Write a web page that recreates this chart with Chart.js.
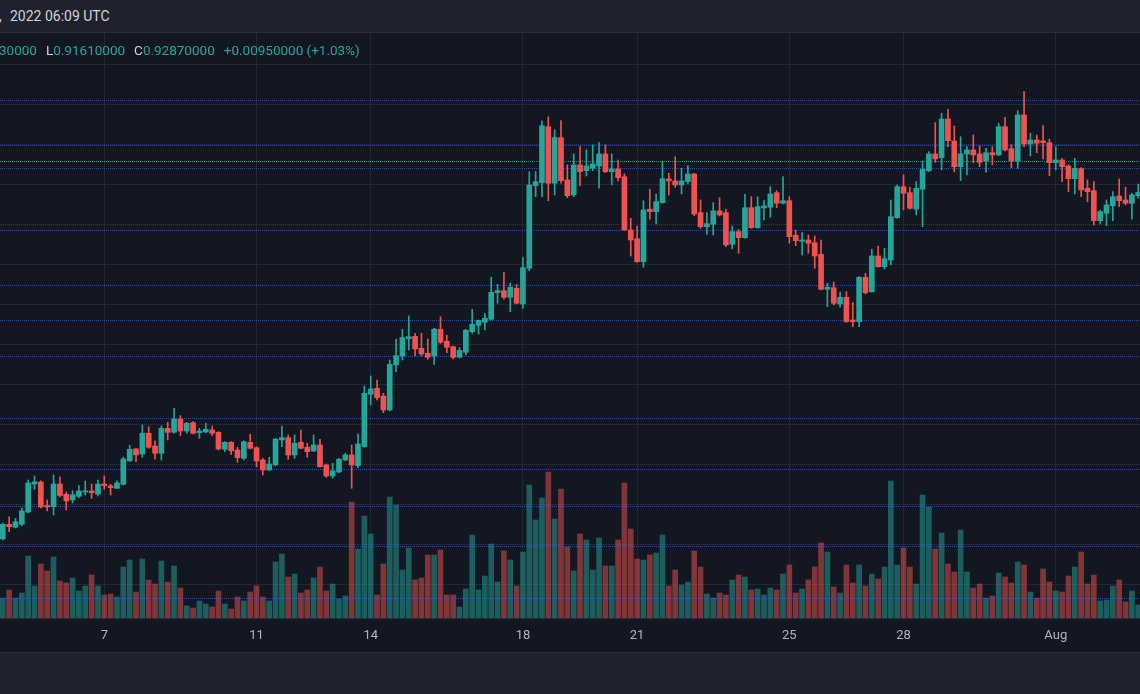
<!DOCTYPE html>
<html>
<head>
<meta charset="utf-8">
<script src="https://cdn.jsdelivr.net/npm/chart.js@4.4.0/dist/chart.umd.min.js"></script>
<style>
  html, body { margin: 0; padding: 0; background: #131722; }
  body { width: 1140px; height: 694px; position: relative; overflow: hidden; font-family: Roboto, "Noto Sans", sans-serif; }
  #topbar { position: absolute; left: 0; top: 0; width: 1140px; height: 32px; background: #1e222d; border-bottom: 1px solid #2a2e39; }
  #topbar span { position: absolute; top: 8px; font-size: 14px; color: #d1d4dc; white-space: nowrap; }
  #chartbox { position: absolute; left: 0; top: 33px; width: 1140px; height: 619px; }
  #legend { position: absolute; left: -1px; top: 42px; font-size: 13.5px; white-space: nowrap; z-index: 2; }
  #legend span { margin-right: 9px; }
  #legend .k { color: #d1d4dc; margin-right: 0; }
  #legend .v { color: #26a69a; }
  #bottom { position: absolute; left: 0; top: 652px; width: 1140px; height: 42px; background: #1e222d; border-top: 1px solid #2a2e39; box-sizing: border-box; }
</style>
</head>
<body>
<div id="topbar"><span style="left:-1px">,</span><span style="left:10px">2022 06:09 UTC</span></div>
<div id="legend">
  <span class="v">30000</span><span class="k">L</span><span class="v">0.91610000</span><span class="k">C</span><span class="v">0.92870000</span><span class="v">+0.00950000 (+1.03%)</span>
</div>
<div id="chartbox"><canvas id="chart" width="1140" height="619"></canvas></div>
<div id="bottom"></div>

<script>
/* ── DATA (4h candles, 4 Jul 08:00 → 3 Aug 04:00) ── */
const opens = [
  0.4567,0.4750,0.4713,0.4750,0.4904,0.5254,0.5279,0.4985,0.4970,0.5254,
  0.5125,0.5054,0.5100,0.5154,0.5167,0.5129,0.5254,0.5229,0.5200,0.5250,
  0.5545,0.5692,0.5629,0.5888,0.5729,0.5638,0.5950,0.5900,0.6067,0.5917,
  0.6020,0.5895,0.5904,0.5929,0.5900,0.5688,0.5775,0.5679,0.5575,0.5775,
  0.5708,0.5554,0.5429,0.5492,0.5804,0.5833,0.5617,0.5775,0.5713,0.5667,
  0.5742,0.5492,0.5354,0.5404,0.5554,0.5617,0.5483,0.5720,0.6375,0.6450,
  0.6354,0.6179,0.6742,0.6854,0.7070,0.7100,0.6950,0.6888,0.6854,0.7188,
  0.7038,0.6970,0.6838,0.6900,0.7158,0.7238,0.7275,0.7313,0.7645,0.7670,
  0.7588,0.7700,0.7504,0.7950,0.8983,0.9020,0.9720,0.9013,0.9583,0.9054,
  0.8867,0.9242,0.9170,0.9200,0.9229,0.9379,0.9158,0.9192,0.9095,0.8429,
  0.8320,0.8033,0.8688,0.8658,0.8770,0.9067,0.9042,0.8992,0.9033,0.9129,
  0.8645,0.8470,0.8500,0.8667,0.8645,0.8250,0.8408,0.8333,0.8708,0.8458,
  0.8704,0.8713,0.8895,0.8763,0.8795,0.8363,0.8288,0.8304,0.8270,0.8125,
  0.7688,0.7708,0.7504,0.7588,0.7304,0.7283,0.7838,0.7658,0.8104,0.7970,
  0.8054,0.8583,0.8970,0.8895,0.8688,0.8938,0.9170,0.9379,0.9333,0.9817,
  0.9542,0.9220,0.9379,0.9429,0.9379,0.9292,0.9395,0.9367,0.9720,0.9445,
  0.9292,0.9867,0.9504,0.9554,0.9542,0.9520,0.9270,0.9304,0.9229,0.9070,
  0.9195,0.8950,0.8920,0.8545,0.8638,0.8733,0.8854,0.8804,0.8763,0.8858
];
const highs = [
  0.4767,0.4845,0.4825,0.4954,0.5304,0.5354,0.5292,0.5054,0.5367,0.5342,
  0.5154,0.5170,0.5233,0.5292,0.5254,0.5304,0.5354,0.5250,0.5292,0.5588,
  0.5738,0.5700,0.5992,0.5970,0.5792,0.5979,0.6025,0.6200,0.6108,0.6025,
  0.6033,0.5950,0.6013,0.5979,0.5908,0.5783,0.5783,0.5713,0.5795,0.5875,
  0.5720,0.5575,0.5588,0.5825,0.5979,0.5867,0.5867,0.5929,0.5763,0.5867,
  0.5813,0.5504,0.5513,0.5575,0.5638,0.5742,0.5879,0.6479,0.6604,0.6554,
  0.6388,0.6804,0.7063,0.7188,0.7354,0.7138,0.7138,0.7067,0.7200,0.7345,
  0.7113,0.6979,0.6958,0.7188,0.7438,0.7304,0.7388,0.7838,0.7750,0.7895,
  0.7763,0.7750,0.8083,0.9158,0.9158,0.9792,0.9845,0.9679,0.9795,0.9242,
  0.9379,0.9470,0.9429,0.9492,0.9520,0.9492,0.9379,0.9304,0.9129,0.8575,
  0.8479,0.8795,0.8938,0.8879,0.9283,0.9138,0.9345,0.9200,0.9233,0.9138,
  0.8804,0.8645,0.8770,0.8833,0.8688,0.8479,0.8438,0.8875,0.8845,0.8845,
  0.8795,0.8970,0.8920,0.9095,0.8845,0.8429,0.8395,0.8367,0.8354,0.8304,
  0.7763,0.7779,0.7654,0.7658,0.7520,0.7845,0.7888,0.8188,0.8229,0.8200,
  0.8804,0.8992,0.9117,0.8963,0.9033,0.9295,0.9408,0.9770,0.9888,0.9938,
  0.9729,0.9595,0.9470,0.9617,0.9479,0.9450,0.9470,0.9763,0.9838,0.9492,
  0.9920,1.0158,0.9638,0.9617,0.9733,0.9563,0.9470,0.9325,0.9242,0.9325,
  0.9208,0.9054,0.9033,0.8679,0.8804,0.8908,0.9067,0.8963,0.8888,0.9004
];
const lows = [
  0.4554,0.4658,0.4704,0.4733,0.4892,0.5188,0.4954,0.4917,0.4867,0.5092,
  0.4929,0.5017,0.5083,0.5117,0.5075,0.5104,0.5188,0.5117,0.5198,0.5242,
  0.5533,0.5533,0.5588,0.5700,0.5563,0.5554,0.5804,0.5888,0.5858,0.5888,
  0.5879,0.5825,0.5895,0.5858,0.5679,0.5658,0.5625,0.5525,0.5554,0.5692,
  0.5470,0.5367,0.5420,0.5479,0.5720,0.5563,0.5575,0.5692,0.5588,0.5658,
  0.5463,0.5338,0.5325,0.5395,0.5545,0.5200,0.5458,0.5713,0.6242,0.6304,
  0.6145,0.6167,0.6658,0.6804,0.6929,0.6854,0.6854,0.6813,0.6750,0.7013,
  0.6895,0.6817,0.6829,0.6867,0.7138,0.7129,0.7179,0.7304,0.7513,0.7563,
  0.7408,0.7505,0.7450,0.7920,0.8845,0.8845,0.8795,0.8867,0.9013,0.8833,
  0.8845,0.8979,0.9104,0.9170,0.8950,0.9145,0.8992,0.9042,0.8420,0.8104,
  0.8025,0.7963,0.8563,0.8504,0.8763,0.8867,0.8963,0.8879,0.9004,0.8608,
  0.8450,0.8375,0.8367,0.8604,0.8220,0.8192,0.8138,0.8325,0.8450,0.8450,
  0.8554,0.8588,0.8708,0.8755,0.8263,0.8233,0.8117,0.8138,0.7950,0.7680,
  0.7470,0.7492,0.7463,0.7275,0.7220,0.7220,0.7629,0.7650,0.7963,0.7938,
  0.7992,0.8575,0.8679,0.8688,0.8617,0.8470,0.9158,0.9275,0.9179,0.9470,
  0.9158,0.9045,0.9117,0.9270,0.9220,0.9150,0.9242,0.9358,0.9417,0.9208,
  0.9200,0.9470,0.9354,0.9395,0.9317,0.9108,0.9179,0.9033,0.8908,0.8879,
  0.8845,0.8783,0.8492,0.8504,0.8483,0.8545,0.8720,0.8742,0.8563,0.8825
];
const closes = [
  0.4750,0.4720,0.4783,0.4917,0.5267,0.5279,0.4967,0.4967,0.5254,0.5110,
  0.5042,0.5117,0.5167,0.5167,0.5145,0.5254,0.5233,0.5208,0.5267,0.5567,
  0.5688,0.5617,0.5888,0.5713,0.5638,0.5950,0.5900,0.6067,0.5917,0.6013,
  0.5888,0.5917,0.5938,0.5888,0.5692,0.5775,0.5670,0.5583,0.5783,0.5700,
  0.5542,0.5429,0.5504,0.5813,0.5833,0.5617,0.5763,0.5700,0.5658,0.5742,
  0.5470,0.5354,0.5417,0.5563,0.5617,0.5492,0.5754,0.6388,0.6442,0.6333,
  0.6179,0.6750,0.6858,0.7083,0.7095,0.6942,0.6879,0.6838,0.7188,0.7025,
  0.6963,0.6838,0.6925,0.7175,0.7250,0.7300,0.7325,0.7650,0.7670,0.7588,
  0.7713,0.7513,0.7958,0.8992,0.9033,0.9733,0.9013,0.9583,0.9045,0.8858,
  0.9242,0.9158,0.9229,0.9254,0.9379,0.9158,0.9192,0.9083,0.8429,0.8304,
  0.8033,0.8679,0.8658,0.8783,0.9070,0.9042,0.8992,0.9042,0.9129,0.8629,
  0.8470,0.8508,0.8667,0.8617,0.8242,0.8408,0.8333,0.8708,0.8458,0.8720,
  0.8729,0.8879,0.8763,0.8795,0.8345,0.8295,0.8304,0.8263,0.8104,0.7688,
  0.7713,0.7513,0.7588,0.7283,0.7283,0.7838,0.7645,0.8104,0.7970,0.8070,
  0.8595,0.8970,0.8888,0.8700,0.8950,0.9188,0.9379,0.9317,0.9817,0.9545,
  0.9220,0.9379,0.9429,0.9367,0.9275,0.9395,0.9367,0.9720,0.9429,0.9292,
  0.9867,0.9504,0.9554,0.9513,0.9520,0.9270,0.9304,0.9220,0.9070,0.9200,
  0.8929,0.8908,0.8545,0.8658,0.8742,0.8845,0.8795,0.8763,0.8867,0.8900
];
// volume, millions
const volumes = [
  2.0,2.8,2.0,2.5,6.2,3.2,5.4,4.7,6.1,3.7,
  3.5,4.0,2.7,3.2,4.3,3.2,2.3,2.4,2.1,5.1,
  5.8,2.6,5.9,3.8,3.4,5.7,3.6,5.2,3.0,1.2,
  1.0,1.7,1.4,1.1,2.7,1.4,0.9,2.1,1.7,2.6,
  3.2,2.1,1.7,5.6,6.4,4.1,4.4,2.5,2.8,4.0,
  5.1,2.7,3.4,1.9,2.2,11.6,6.9,10.2,8.4,2.3,
  5.4,12.1,11.3,4.8,7.0,3.8,4.0,6.3,6.3,6.8,
  2.3,2.3,1.1,2.9,8.3,2.8,4.2,7.4,3.6,6.7,
  5.8,3.2,6.6,13.3,9.8,12.0,14.6,9.9,12.9,7.1,
  4.7,8.4,7.8,4.8,8.0,5.2,5.2,7.8,13.5,8.9,
  5.9,5.8,6.3,6.5,8.3,3.2,4.8,3.3,3.6,6.7,
  5.1,2.4,2.0,2.5,2.3,3.8,4.3,4.1,2.8,2.9,
  2.3,3.0,2.8,4.4,5.3,2.5,2.9,3.8,5.1,7.5,
  6.6,3.1,2.5,5.3,3.5,5.3,3.2,4.4,3.9,5.1,
  13.7,5.3,7.0,5.1,3.4,12.3,11.1,6.9,8.5,5.4,
  4.6,8.8,4.6,3.0,3.4,2.0,2.2,4.5,4.1,3.5,
  5.6,5.3,2.6,2.0,4.9,3.6,2.7,2.6,4.2,5.1,
  6.6,3.4,4.3,1.7,1.8,3.2,3.8,1.6,2.7,1.3
];

// time axis: candle index of each day label
const tickIdx  = [16, 40, 58, 82, 100, 124, 142, 166];
const tickText = ['7', '11', '14', '18', '21', '25', '28', 'Aug'];

// price grid and drawn horizontal levels
const gridPrices = [0.40, 0.45, 0.50, 0.55, 0.60, 0.65, 0.70, 0.75, 0.80, 0.85, 0.90, 0.95, 1.00, 1.05];
const levels = [1.0050, 0.9492, 0.9200, 0.8429, 0.7742, 0.7304, 0.6858, 0.6075, 0.5438, 0.4983, 0.4475, 0.3825];
const lastPrice = 0.9287;

/* ── COLOURS ── */
const UP = '#26a69a', DOWN = '#ef5350';
const UP_VOL = 'rgba(38,166,154,0.5)', DOWN_VOL = 'rgba(239,83,80,0.5)';
const GRID = '#232733';
const LEVEL = 'rgba(41,98,255,0.7)';

const idx = opens.map((_, i) => i);
const isUp = i => closes[i] >= opens[i];

/* ── LEVEL LINES (drawn just after the volume bars) ── */
const levelLines = {
  id: 'levelLines',
  afterDatasetDraw(chart, args) {
    if (args.index !== 2) return;
    const { ctx, chartArea: a, scales: { y } } = chart;
    ctx.save();
    ctx.lineWidth = 1;
    ctx.setLineDash([1, 1]);
    const line = (v, color) => {
      const py = Math.round(y.getPixelForValue(v)) + 0.5;
      ctx.strokeStyle = color;
      ctx.beginPath();
      ctx.moveTo(a.left, py);
      ctx.lineTo(a.right, py);
      ctx.stroke();
    };
    levels.forEach(v => line(v, LEVEL));
    line(lastPrice, 'rgba(38,166,154,0.8)');
    ctx.restore();
  }
};

Chart.defaults.font.family = 'Roboto, "Noto Sans", sans-serif';

new Chart(document.getElementById('chart'), {
  type: 'bar',
  data: {
    datasets: [
      {
        label: 'body',
        data: idx.map(i => ({ x: i, y: [opens[i], closes[i]] })),
        backgroundColor: idx.map(i => isUp(i) ? UP : DOWN),
        barThickness: 5, minBarLength: 1, grouped: false, order: 0, yAxisID: 'y'
      },
      {
        label: 'wick',
        data: idx.map(i => ({ x: i, y: [lows[i], highs[i]] })),
        backgroundColor: idx.map(i => isUp(i) ? UP : DOWN),
        barThickness: 1, grouped: false, order: 1, yAxisID: 'y'
      },
      {
        label: 'volume',
        data: idx.map(i => ({ x: i, y: volumes[i] })),
        backgroundColor: idx.map(i => isUp(i) ? UP_VOL : DOWN_VOL),
        barThickness: 5, grouped: false, order: 2, yAxisID: 'vol'
      }
    ]
  },
  options: {
    responsive: false,
    maintainAspectRatio: false,
    devicePixelRatio: 1,
    animation: false,
    events: [],
    layout: { padding: 0 },
    plugins: { legend: { display: false }, tooltip: { enabled: false } },
    scales: {
      x: {
        type: 'linear', bounds: 'data', min: -0.441, max: 179.28, offset: false,
        grid: { color: GRID, drawTicks: false, offset: false },
        border: { display: true, color: '#2a2e39' },
        ticks: {
          autoSkip: false, maxRotation: 0, padding: 10, color: '#b2b5be', font: { size: 13 },
          callback: v => tickText[tickIdx.indexOf(v)] ?? ''
        },
        afterBuildTicks: s => { s.ticks = tickIdx.map(v => ({ value: v })); },
        afterFit: s => { s.height = 34; }
      },
      y: {
        position: 'right', bounds: 'data', min: 0.3579, max: 1.0891,
        grid: { color: GRID, drawTicks: false },
        border: { display: false },
        ticks: { display: false },
        afterBuildTicks: s => { s.ticks = gridPrices.map(v => ({ value: v })); },
        afterFit: s => { s.width = 0; }
      },
      vol: { position: 'left', display: false, min: 0, max: 58.5 }
    }
  },
  plugins: [levelLines]
});
</script>
</body>
</html>
